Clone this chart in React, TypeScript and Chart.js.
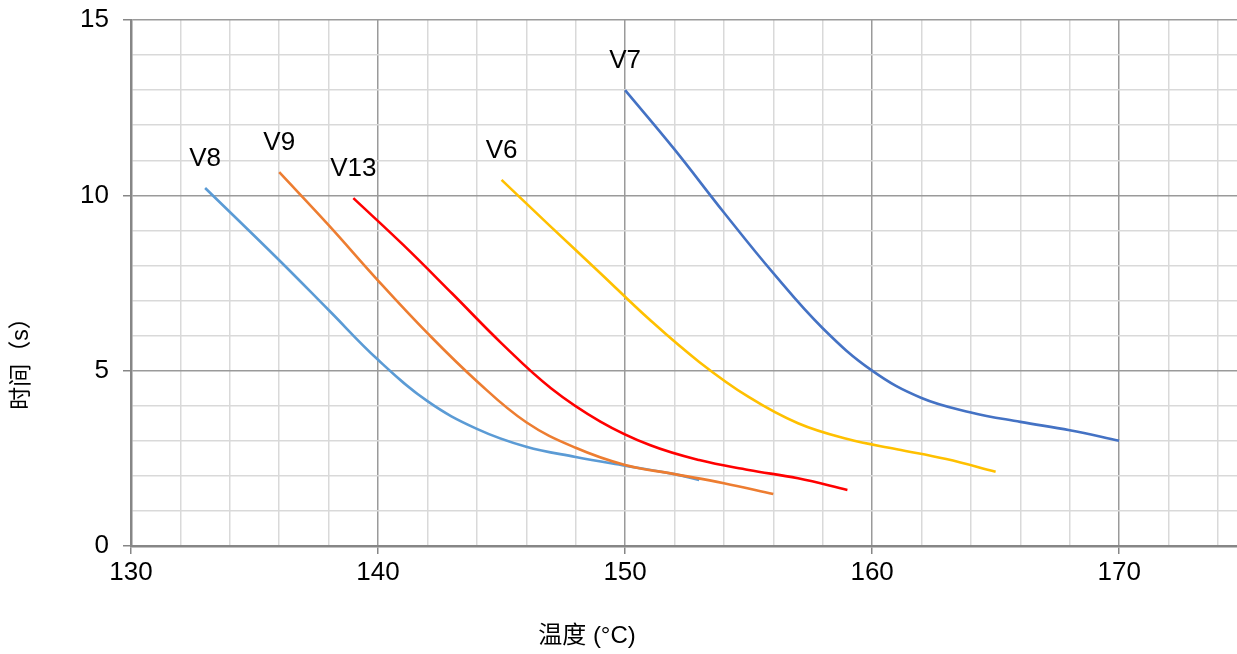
import React, { useEffect, useRef } from "react";
import { Chart, registerables } from "chart.js";

Chart.register(...registerables);

const seriesNames = ["V9", "V8", "V13", "V6", "V7"];
const seriesColors = ["#ED7D31", "#5B9BD5", "#FF0000", "#FFC000", "#4472C4"];

const v9X = [136, 138, 140, 142, 144, 146, 148, 150, 152, 154, 156];
const v9Y = [10.66, 9.15, 7.57, 6.07, 4.7, 3.53, 2.8, 2.31, 2.05, 1.79, 1.48];

const v8X = [133, 136, 138, 140, 142, 144, 146, 148, 150, 152, 153];
const v8Y = [10.21, 8.15, 6.73, 5.31, 4.13, 3.34, 2.83, 2.54, 2.29, 2.05, 1.88];

const v13X = [139, 141, 143, 145, 147, 149, 151, 153, 155, 157, 159];
const v13Y = [9.92, 8.6, 7.2, 5.78, 4.5, 3.55, 2.88, 2.45, 2.17, 1.93, 1.6];

const v6X = [145, 147, 149, 151, 153, 155, 157, 159, 161, 163, 165];
const v6Y = [10.44, 9.1, 7.78, 6.45, 5.25, 4.25, 3.5, 3.05, 2.76, 2.48, 2.12];

const v7X = [150, 152, 154, 156, 158, 160, 162, 164, 166, 168, 170];
const v7Y = [13.0, 11.31, 9.51, 7.78, 6.21, 5.0, 4.22, 3.81, 3.54, 3.3, 3.0];

const seriesX = [v9X, v8X, v13X, v6X, v7X];
const seriesY = [v9Y, v8Y, v13Y, v6Y, v7Y];

const xTitle = "温度 (°C)";
const yTitle = "时间（s）";

const FONT = "'Liberation Sans', Arial, 'Noto Sans CJK SC', sans-serif";
const MAJOR = "#9a9a9a";
const MINOR = "#d9d9d9";

const labelPlugin = {
  id: "seriesLabels",
  afterDatasetsDraw(chart: any) {
    const ctx = chart.ctx;
    ctx.save();
    ctx.font = `26px ${FONT}`;
    ctx.fillStyle = "#000000";
    ctx.textAlign = "center";
    ctx.textBaseline = "middle";
    chart.data.datasets.forEach((ds: any, i: number) => {
      const meta = chart.getDatasetMeta(i);
      const p = meta.data[0];
      if (p) ctx.fillText(ds.label, p.x, p.y - 29.5);
    });
    ctx.restore();
  },
  afterDraw(chart: any) {
    const ctx = chart.ctx;
    ctx.save();
    ctx.font = `24px ${FONT}`;
    ctx.fillStyle = "#000000";
    ctx.textAlign = "center";
    ctx.textBaseline = "middle";
    ctx.fillText(xTitle, 587, 636);
    ctx.font = `23px ${FONT}`;
    ctx.translate(22, 358);
    ctx.rotate(-Math.PI / 2);
    ctx.fillText(yTitle, 0, 0);
    ctx.restore();
  },
};

export default function App() {
  const ref = useRef<HTMLCanvasElement | null>(null);
  useEffect(() => {
    if (!ref.current) return;
    const datasets = seriesNames.map((name, i) => ({
      label: name,
      data: seriesX[i].map((x, j) => ({ x, y: seriesY[i][j] })),
      borderColor: seriesColors[i],
      backgroundColor: seriesColors[i],
      borderWidth: 2.6,
      pointRadius: 0,
      tension: 0.4,
      fill: false,
    }));
    const chart = new Chart(ref.current, {
      type: "line",
      data: { datasets },
      plugins: [labelPlugin],
      options: {
        animation: false,
        responsive: false,
        devicePixelRatio: 1,
        layout: { padding: { top: 20, right: 0, left: 0, bottom: 0 } },
        plugins: { legend: { display: false }, tooltip: { enabled: false } },
        scales: {
          x: {
            type: "linear",
            min: 130,
            max: 174.77,
            afterBuildTicks: (scale: any) => {
              const t = [];
              for (let v = 130; v <= 174; v += 2) t.push({ value: v });
              scale.ticks = t;
            },
            afterFit: (scale: any) => {
              scale.height = 108;
              scale.paddingLeft = 0;
              scale.paddingRight = 0;
            },
            ticks: {
              autoSkip: false,
              maxRotation: 0,
              padding: 3,
              color: "#000000",
              font: { family: FONT, size: 26 },
              callback: (v: any) => (Number(v) % 10 === 0 ? String(v) : ""),
            },
            grid: {
              color: (c: any) => (c.tick && c.tick.value % 10 === 0 ? MAJOR : MINOR),
              lineWidth: 1.5,
              tickColor: (c: any) => (c.tick && c.tick.value % 10 === 0 ? "#868686" : "rgba(0,0,0,0)"),
              tickLength: 8,
            },
            border: { color: "#868686", width: 2.5 },
          },
          y: {
            type: "linear",
            min: 0,
            max: 15,
            afterFit: (scale: any) => {
              scale.width = 131;
              scale.paddingTop = 0;
              scale.paddingBottom = 0;
            },
            ticks: {
              stepSize: 1,
              autoSkip: false,
              padding: 14,
              color: "#000000",
              font: { family: FONT, size: 26 },
              callback: (v: any) => (Number(v) % 5 === 0 ? String(v) : ""),
            },
            grid: {
              color: (c: any) => (c.tick && c.tick.value % 5 === 0 ? MAJOR : MINOR),
              lineWidth: 1.5,
              tickColor: (c: any) => (c.tick && c.tick.value % 5 === 0 ? "#868686" : "rgba(0,0,0,0)"),
              tickLength: 8,
            },
            border: { color: "#868686", width: 2.5 },
          },
        },
      },
    });
    return () => chart.destroy();
  }, []);
  return (
    <div style={{ position: "absolute", left: 0, top: 0, width: 1237, height: 654, background: "#ffffff" }}>
      <canvas ref={ref} width={1237} height={654} style={{ width: 1237, height: 654, display: "block" }} />
    </div>
  );
}
